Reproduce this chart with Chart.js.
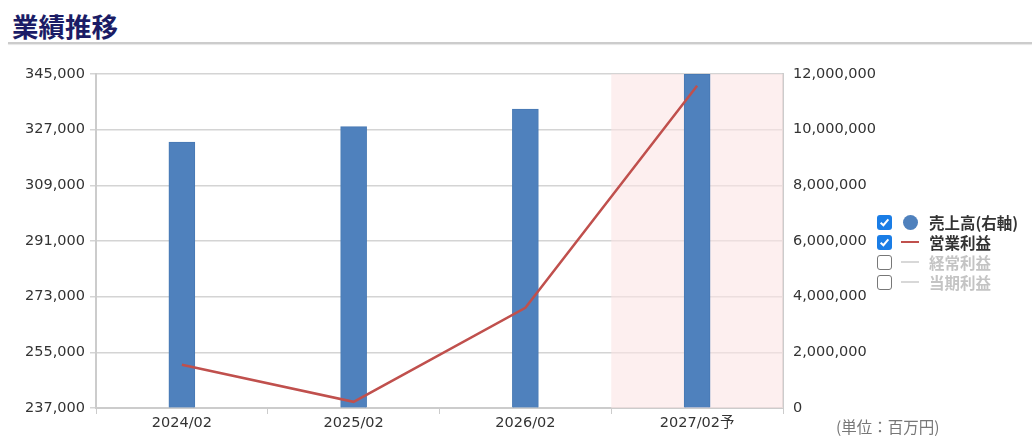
<!DOCTYPE html>
<html lang="ja">
<head>
<meta charset="utf-8">
<script src="https://cdn.jsdelivr.net/npm/chart.js@4/dist/chart.umd.min.js"></script>
<style>
  html, body { margin: 0; padding: 0; background: #fff; }
  body { width: 1032px; height: 442px; position: relative; overflow: hidden;
         font-family: "Noto Sans CJK JP", "Noto Sans", sans-serif; }
  .title { position: absolute; left: 12px; top: 6px; font-size: 26.5px; font-weight: bold;
           color: #1b1c66; }
  .rule { position: absolute; left: 8px; right: 0; top: 42px; height: 2px; background: #cccccc;
          box-shadow: 0 1px 1px #e6e6e6; }
  #wrap { position: absolute; left: 0; top: 50px; width: 1032px; height: 392px; }
  .legend { position: absolute; left: 877px; top: 212px; font-size: 15.5px; font-weight: bold; }
  .legend .row { height: 20px; display: flex; align-items: center; }
  .box { width: 15px; height: 15px; border-radius: 3px; box-sizing: border-box; margin-right: 9px;
         display: flex; align-items: center; justify-content: center; }
  .box.on { background: #1a7de6; }
  .box.off { border: 1.5px solid #777; background: #fff; }
  .mark { width: 18px; margin-right: 10px; display: flex; align-items: center; justify-content: center; }
  .dot { width: 15px; height: 15px; border-radius: 50%; background: #4f81bd; }
  .dash { width: 18px; height: 2px; }
  .unit { position: absolute; left: 836px; top: 415px; font-size: 15.5px; color: #777; }
</style>
</head>
<body>
<div class="title">業績推移</div>
<div class="rule"></div>
<div id="wrap"><canvas id="myChart"></canvas></div>
<div class="legend" id="legend"></div>
<div class="unit">(単位：百万円)</div>
<script>
const categories = ['2024/02', '2025/02', '2026/02', '2027/02予'];
const sales = [9550000, 10110000, 10740000, 11990000];       // 売上高 (右軸)
const operatingProfit = [251000, 239000, 269400, 341200];    // 営業利益 (左軸)
const leftTicks = [237000, 255000, 273000, 291000, 309000, 327000, 345000];
const rightTicks = [0, 2000000, 4000000, 6000000, 8000000, 10000000, 12000000];
const forecastIndex = 3;

const legendItems = [
  { label: '売上高(右軸)', on: true, type: 'dot', color: '#4f81bd' },
  { label: '営業利益', on: true, type: 'line', color: '#c0504d' },
  { label: '経常利益', on: false, type: 'line', color: '#d8d8d8' },
  { label: '当期利益', on: false, type: 'line', color: '#d8d8d8' }
];

const legend = document.getElementById('legend');
legendItems.forEach(item => {
  const row = document.createElement('div');
  row.className = 'row';
  const check = item.on
    ? '<svg width="11" height="11" viewBox="0 0 10 10"><path d="M1.5 5.2 L4 7.5 L8.5 2.2" stroke="#fff" stroke-width="1.8" fill="none"/></svg>'
    : '';
  const mark = item.type === 'dot'
    ? '<div class="dot"></div>'
    : '<div class="dash" style="background:' + item.color + '"></div>';
  row.innerHTML = '<div class="box ' + (item.on ? 'on' : 'off') + '">' + check + '</div>' +
    '<div class="mark">' + mark + '</div>' +
    '<span style="color:' + (item.on ? '#333' : '#c4c4c4') + '">' + item.label + '</span>';
  legend.appendChild(row);
});

// shades the forecast column
const forecastShade = {
  id: 'forecastShade',
  beforeDatasetsDraw(chart) {
    const x = chart.scales.x;
    const area = chart.chartArea;
    const half = (x.getPixelForValue(1) - x.getPixelForValue(0)) / 2;
    const cx = x.getPixelForValue(forecastIndex);
    const ctx = chart.ctx;
    ctx.save();
    ctx.fillStyle = 'rgba(252, 228, 228, 0.6)';
    ctx.fillRect(cx - half, area.top, half * 2, area.bottom - area.top);
    ctx.restore();
  }
};

const fmt = v => Number(v).toLocaleString('en-US');
const tickFont = { size: 14.5, family: '"DejaVu Sans", "Noto Sans CJK JP"' };

new Chart(document.getElementById('myChart'), {
  data: {
    labels: categories,
    datasets: [{
      type: 'line',
      label: '営業利益',
      data: operatingProfit,
      yAxisID: 'yLeft',
      borderColor: '#c0504d',
      borderWidth: 2.5,
      pointRadius: 0,
      fill: false,
      tension: 0,
      order: 0
    }, {
      type: 'bar',
      label: '売上高(右軸)',
      data: sales,
      yAxisID: 'yRight',
      backgroundColor: '#4f81bd',
      borderColor: '#4779b4',
      borderWidth: 1,
      barThickness: 26,
      order: 1
    }]
  },
  options: {
    responsive: true,
    maintainAspectRatio: false,
    animation: false,
    layout: { padding: { top: 24, left: 0, right: 0, bottom: 0 } },
    plugins: { legend: { display: false }, tooltip: { enabled: false } },
    scales: {
      x: {
        offset: true,
        grid: { drawOnChartArea: false, drawTicks: true, tickLength: 6, color: '#cccccc', offset: true },
        border: { color: '#cccccc', width: 2 },
        ticks: { color: '#333', font: tickFont, padding: 1 },
        afterFit(s) { s.height = 34; }
      },
      yLeft: {
        position: 'left',
        min: leftTicks[0],
        max: leftTicks[leftTicks.length - 1],
        afterBuildTicks(s) { s.ticks = leftTicks.map(v => ({ value: v })); },
        grid: { color: '#d4d4d4', lineWidth: 1.5, tickLength: 6 },
        border: { color: '#cccccc', width: 2 },
        ticks: { color: '#333', font: tickFont, padding: 5, callback: fmt },
        afterFit(s) { s.width = 96; }
      },
      yRight: {
        position: 'right',
        min: rightTicks[0],
        max: rightTicks[rightTicks.length - 1],
        afterBuildTicks(s) { s.ticks = rightTicks.map(v => ({ value: v })); },
        grid: { drawOnChartArea: false, drawTicks: false },
        border: { color: '#cccccc', width: 2 },
        ticks: { color: '#333', font: tickFont, padding: 10, callback: fmt },
        afterFit(s) { s.width = 249; }
      }
    }
  },
  plugins: [forecastShade]
});
</script>
</body>
</html>
